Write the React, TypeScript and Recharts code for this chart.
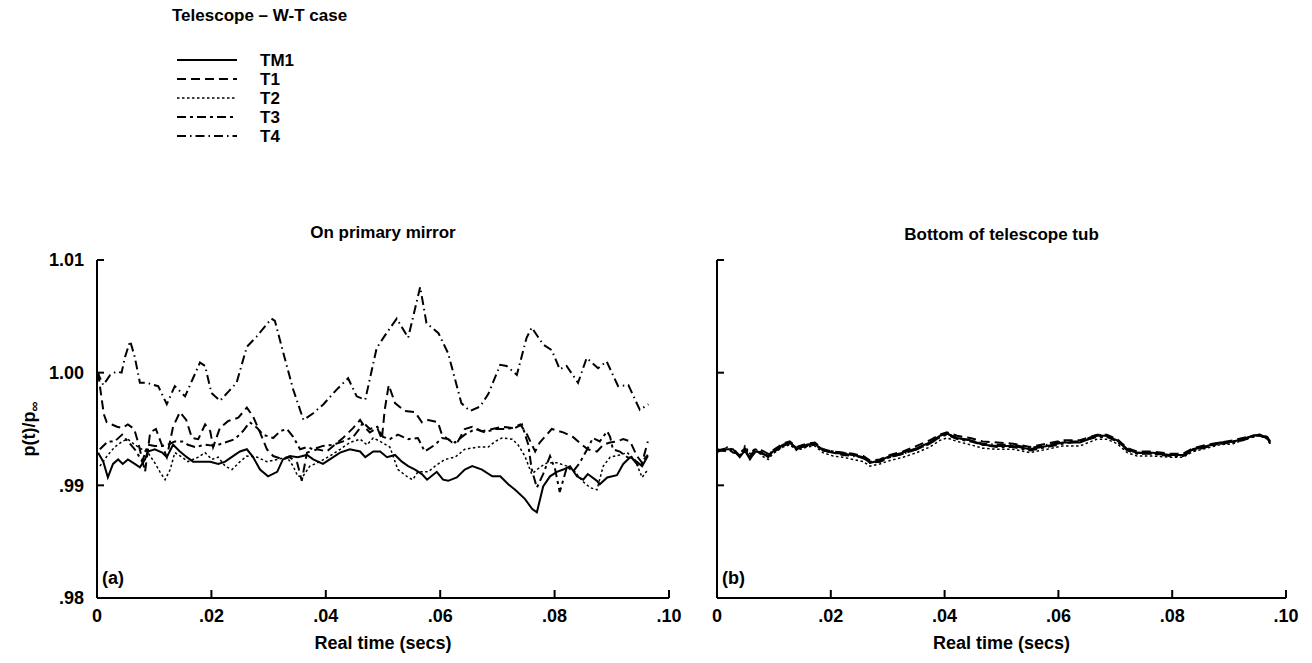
import { LineChart, Line, XAxis, YAxis, Label } from "recharts";

const FONT = '"Liberation Sans", Arial, Helvetica, sans-serif';

const seriesNames = ["TM1", "T1", "T2", "T3", "T4"];
const xTicks = [0, 0.02, 0.04, 0.06, 0.08, 0.1];
const yTicks = [0.98, 0.99, 1.0, 1.01];

// panel (a): traced points [time, p/pinf]
const leftTM1 = [
  [0.0002, 0.9929], [0.0011, 0.9921], [0.0019, 0.9907], [0.0028, 0.9919], [0.0037, 0.9923],
  [0.0045, 0.9919], [0.0054, 0.9923], [0.0066, 0.9919], [0.0075, 0.9916], [0.0084, 0.9923],
  [0.0089, 0.993], [0.0101, 0.9932], [0.0114, 0.9929], [0.0122, 0.9925], [0.0133, 0.9936],
  [0.0145, 0.993], [0.0157, 0.9925], [0.0168, 0.9921], [0.0184, 0.9921], [0.0198, 0.9921],
  [0.0212, 0.9919], [0.0224, 0.9921], [0.0241, 0.9927], [0.025, 0.993], [0.0262, 0.9932],
  [0.0273, 0.9925], [0.0285, 0.9914], [0.0299, 0.9908], [0.0315, 0.9912], [0.0325, 0.9923],
  [0.0337, 0.9926], [0.0351, 0.9925], [0.0367, 0.9927], [0.0378, 0.9923], [0.0395, 0.9919],
  [0.0407, 0.9923], [0.0425, 0.9929], [0.0442, 0.9932], [0.046, 0.993], [0.0469, 0.9925],
  [0.0483, 0.993], [0.0495, 0.993], [0.0507, 0.9925], [0.0521, 0.9927], [0.0533, 0.9921],
  [0.0544, 0.9917], [0.0556, 0.9914], [0.0568, 0.991], [0.0577, 0.9905], [0.0594, 0.9912],
  [0.0605, 0.9905], [0.0614, 0.9904], [0.0629, 0.9907], [0.0643, 0.9914], [0.0656, 0.9917],
  [0.0673, 0.9914], [0.0691, 0.9908], [0.0705, 0.9908], [0.0719, 0.9901], [0.0731, 0.9896],
  [0.0748, 0.9888], [0.0761, 0.9879], [0.0769, 0.9876], [0.078, 0.9899], [0.0792, 0.9908],
  [0.0804, 0.9912], [0.0815, 0.9914], [0.0827, 0.9917], [0.0839, 0.9908], [0.085, 0.9905],
  [0.0858, 0.991], [0.0874, 0.9904], [0.0879, 0.9901], [0.0892, 0.9907], [0.0909, 0.9909],
  [0.092, 0.9919], [0.0932, 0.9925], [0.0944, 0.9921], [0.0953, 0.9917], [0.0963, 0.9926],
];

const leftT1 = [
  [0.0002, 1.0], [0.0007, 0.9981], [0.0012, 0.9963], [0.0017, 0.9956], [0.0026, 0.9954],
  [0.0035, 0.9952], [0.0044, 0.9951], [0.0054, 0.9954], [0.0065, 0.995], [0.0072, 0.9938],
  [0.0079, 0.9923], [0.0084, 0.9912], [0.0093, 0.9947], [0.0103, 0.995], [0.0114, 0.9935],
  [0.0122, 0.9925], [0.0133, 0.9952], [0.0145, 0.9965], [0.0156, 0.9958], [0.0166, 0.9942],
  [0.0177, 0.9941], [0.0189, 0.9954], [0.0198, 0.9948], [0.0203, 0.9934], [0.0215, 0.9951],
  [0.0229, 0.9957], [0.0247, 0.996], [0.0262, 0.9969], [0.0273, 0.9961], [0.0285, 0.9947],
  [0.0297, 0.9932], [0.0308, 0.9926], [0.0325, 0.9923], [0.0337, 0.9925], [0.035, 0.992],
  [0.0358, 0.9904], [0.0367, 0.9929], [0.0385, 0.9932], [0.0402, 0.993], [0.0413, 0.9935],
  [0.043, 0.9942], [0.0448, 0.9951], [0.046, 0.9958], [0.0469, 0.9951], [0.0477, 0.9947],
  [0.049, 0.9951], [0.0498, 0.9941], [0.0503, 0.9967], [0.051, 0.9989], [0.0521, 0.9973],
  [0.0538, 0.9966], [0.0556, 0.9965], [0.0568, 0.9956], [0.0579, 0.9958], [0.0596, 0.9956],
  [0.0603, 0.9945], [0.0621, 0.9938], [0.0631, 0.9939], [0.0643, 0.995], [0.0656, 0.9952],
  [0.0673, 0.9948], [0.0691, 0.995], [0.0708, 0.9952], [0.0726, 0.9951], [0.074, 0.9954],
  [0.0752, 0.9945], [0.0766, 0.993], [0.0774, 0.9938], [0.0795, 0.995], [0.0815, 0.9947],
  [0.0832, 0.9943], [0.0848, 0.9936], [0.0858, 0.9932], [0.0874, 0.993], [0.0885, 0.9936],
  [0.0897, 0.9938], [0.0909, 0.9939], [0.092, 0.9941], [0.0932, 0.9939], [0.0944, 0.9926],
  [0.0953, 0.992], [0.0963, 0.9939],
];

const leftT2 = [
  [0.0005, 0.9917], [0.0019, 0.9927], [0.0031, 0.9934], [0.0044, 0.9939], [0.0054, 0.9941],
  [0.0066, 0.9936], [0.0079, 0.9932], [0.0089, 0.9929], [0.0101, 0.992], [0.011, 0.9912],
  [0.0119, 0.9905], [0.0128, 0.9914], [0.0136, 0.9929], [0.0149, 0.9925], [0.0159, 0.9921],
  [0.0177, 0.9925], [0.0189, 0.9929], [0.0201, 0.9923], [0.0212, 0.9925], [0.0224, 0.9917],
  [0.0236, 0.9914], [0.025, 0.9921], [0.0262, 0.9926], [0.028, 0.9925], [0.0297, 0.9921],
  [0.0315, 0.9923], [0.0332, 0.9925], [0.0343, 0.9917], [0.0351, 0.9908], [0.036, 0.9908],
  [0.0372, 0.9917], [0.039, 0.9921], [0.0407, 0.9926], [0.0425, 0.9932], [0.0442, 0.9938],
  [0.046, 0.9941], [0.0472, 0.9936], [0.0483, 0.9942], [0.0495, 0.9939], [0.0512, 0.9934],
  [0.0526, 0.9914], [0.0544, 0.9907], [0.0552, 0.9905], [0.0561, 0.9912], [0.0579, 0.9912],
  [0.0591, 0.9917], [0.0608, 0.9923], [0.0626, 0.9925], [0.0643, 0.9932], [0.0666, 0.9934],
  [0.0684, 0.9934], [0.0696, 0.9939], [0.0708, 0.9942], [0.0726, 0.9941], [0.0736, 0.9936],
  [0.0748, 0.9926], [0.076, 0.991], [0.0774, 0.9916], [0.0787, 0.992], [0.0804, 0.992],
  [0.0822, 0.9917], [0.0836, 0.9912], [0.0848, 0.9904], [0.0862, 0.9898], [0.0874, 0.9896],
  [0.0885, 0.9917], [0.0897, 0.9925], [0.0914, 0.9927], [0.0927, 0.9929], [0.094, 0.9923],
  [0.0953, 0.9907], [0.0963, 0.9914],
];

const leftT3 = [
  [0.0005, 0.9932], [0.0019, 0.9939], [0.0031, 0.9939], [0.0044, 0.9945], [0.0054, 0.9939],
  [0.0066, 0.9932], [0.0079, 0.9921], [0.0089, 0.9936], [0.0101, 0.9935], [0.0114, 0.9935],
  [0.0124, 0.9936], [0.0136, 0.9939], [0.0149, 0.9939], [0.0159, 0.9936], [0.0171, 0.9934],
  [0.0189, 0.9936], [0.0206, 0.9935], [0.0224, 0.9938], [0.0241, 0.9941], [0.0255, 0.9948],
  [0.0267, 0.9956], [0.028, 0.9951], [0.029, 0.9945], [0.0308, 0.9942], [0.032, 0.9948],
  [0.0332, 0.995], [0.0343, 0.9943], [0.0355, 0.9932], [0.0367, 0.9934], [0.0378, 0.9932],
  [0.0395, 0.9935], [0.0413, 0.9936], [0.043, 0.9939], [0.0448, 0.9943], [0.046, 0.9951],
  [0.0465, 0.9956], [0.0477, 0.995], [0.049, 0.9952], [0.05, 0.9943], [0.0512, 0.9941],
  [0.0526, 0.9945], [0.0544, 0.9941], [0.0561, 0.9942], [0.0573, 0.993], [0.0591, 0.9936],
  [0.0603, 0.9942], [0.0614, 0.9941], [0.0626, 0.9938], [0.0643, 0.9945], [0.0661, 0.995],
  [0.0678, 0.9947], [0.0696, 0.995], [0.0713, 0.995], [0.0731, 0.9951], [0.0743, 0.9954],
  [0.0754, 0.9936], [0.076, 0.9914], [0.0769, 0.9898], [0.078, 0.991], [0.0792, 0.9926],
  [0.0801, 0.9914], [0.0809, 0.9894], [0.0822, 0.9917], [0.0832, 0.9912], [0.0844, 0.992],
  [0.0857, 0.9932], [0.0867, 0.9942], [0.0879, 0.9939], [0.0892, 0.9948], [0.0897, 0.9943],
  [0.0902, 0.9932], [0.0914, 0.993], [0.0927, 0.9925], [0.0937, 0.9923], [0.0949, 0.9916],
  [0.0956, 0.9923], [0.0963, 0.9927],
];

const leftT4 = [
  [0, 1.0001], [0.0011, 0.9989], [0.0023, 0.9998], [0.0034, 1.0001], [0.0043, 1.0],
  [0.0049, 1.0014], [0.0058, 1.0028], [0.0066, 1.0014], [0.0075, 0.9991], [0.0087, 0.9991],
  [0.0107, 0.9988], [0.0122, 0.9972], [0.0136, 0.9988], [0.0154, 0.9979], [0.018, 1.0009],
  [0.0189, 1.0006], [0.02, 0.9982], [0.0215, 0.9975], [0.0233, 0.9985], [0.0244, 0.9991],
  [0.0262, 1.0023], [0.0279, 1.0032], [0.0305, 1.0048], [0.0311, 1.0046], [0.0326, 1.0017],
  [0.0343, 0.9985], [0.0361, 0.9958], [0.0378, 0.9964], [0.0396, 0.9972], [0.0419, 0.9985],
  [0.0439, 0.9995], [0.0454, 0.9979], [0.0469, 0.9976], [0.0489, 1.0022], [0.0506, 1.0035],
  [0.0524, 1.0048], [0.0544, 1.0031], [0.0565, 1.0076], [0.0576, 1.0044], [0.0597, 1.0035],
  [0.0614, 1.0017], [0.0637, 0.9973], [0.0652, 0.9966], [0.067, 0.997], [0.0684, 0.9981],
  [0.0705, 1.0007], [0.0716, 1.0006], [0.0734, 0.9998], [0.0751, 1.0031], [0.076, 1.004],
  [0.078, 1.0025], [0.0795, 1.002], [0.0809, 1.0003], [0.0821, 1.0006], [0.0841, 0.9991],
  [0.0856, 1.0013], [0.0876, 1.0004], [0.0891, 1.001], [0.0911, 0.9988], [0.0929, 0.9989],
  [0.0949, 0.9967], [0.0964, 0.9972],
];

// panel (b): shared time base
const rightTime = [
  0, 0.0018, 0.0028, 0.004, 0.0049, 0.0058, 0.0067, 0.0079, 0.009, 0.0098,
  0.0116, 0.0128, 0.014, 0.0158, 0.0172, 0.0186, 0.0204, 0.0221, 0.0239, 0.0257,
  0.0269, 0.0286, 0.0304, 0.0327, 0.0351, 0.0374, 0.0392, 0.0404, 0.0422, 0.0445,
  0.0467, 0.0492, 0.052, 0.055, 0.058, 0.0608, 0.0638, 0.0668, 0.0685, 0.0703,
  0.0721, 0.0738, 0.0766, 0.0796, 0.0819, 0.0837, 0.0861, 0.0884, 0.0907, 0.0924,
  0.0942, 0.0954, 0.0967, 0.0972,
];
const rightTM1 = [
  0.993, 0.9932, 0.9932, 0.9925, 0.9931, 0.9923, 0.993, 0.9929, 0.9925, 0.993,
  0.9936, 0.9938, 0.9932, 0.9936, 0.9937, 0.9931, 0.9929, 0.9928, 0.9927, 0.9925,
  0.992, 0.9922, 0.9926, 0.9929, 0.9933, 0.9938, 0.9944, 0.9946, 0.9942, 0.994,
  0.9936, 0.9935, 0.9935, 0.9932, 0.9935, 0.9938, 0.9938, 0.9944, 0.9944, 0.994,
  0.9932, 0.9929, 0.9929, 0.9927, 0.9927, 0.9932, 0.9935, 0.9938, 0.9939, 0.9941,
  0.9944, 0.9945, 0.9942, 0.9938,
];
const rightT1 = [
  0.9931, 0.9933, 0.9929, 0.9928, 0.9933, 0.9926, 0.9932, 0.9931, 0.9928, 0.9931,
  0.9937, 0.9939, 0.9934, 0.9937, 0.9938, 0.9932, 0.993, 0.9929, 0.9928, 0.9926,
  0.9922, 0.9923, 0.9927, 0.993, 0.9935, 0.994, 0.9945, 0.9947, 0.9944, 0.9942,
  0.9939, 0.9938, 0.9937, 0.9934, 0.9937, 0.994, 0.994, 0.9945, 0.9945, 0.9941,
  0.9933, 0.993, 0.993, 0.9928, 0.9928, 0.9933, 0.9936, 0.9938, 0.994, 0.9942,
  0.9944, 0.9945, 0.9943, 0.9939,
];
const rightT2 = [
  0.9929, 0.9934, 0.993, 0.9927, 0.9935, 0.9928, 0.9933, 0.9926, 0.9923, 0.9928,
  0.9934, 0.9936, 0.9931, 0.9934, 0.9935, 0.9929, 0.9926, 0.9925, 0.9923, 0.9921,
  0.9917, 0.9919, 0.9922, 0.9925, 0.9929, 0.9934, 0.994, 0.9942, 0.9939, 0.9936,
  0.9933, 0.9932, 0.9932, 0.9929, 0.9932, 0.9935, 0.9935, 0.9941, 0.9941, 0.9937,
  0.9929, 0.9926, 0.9926, 0.9925, 0.9925, 0.993, 0.9933, 0.9936, 0.9937, 0.994,
  0.9943, 0.9944, 0.9941, 0.9937,
];
const rightT3 = [
  0.9932, 0.993, 0.9933, 0.9926, 0.993, 0.9925, 0.9929, 0.993, 0.9926, 0.9931,
  0.9935, 0.9937, 0.9933, 0.9935, 0.9936, 0.9932, 0.993, 0.9929, 0.9927, 0.9924,
  0.9921, 0.9921, 0.9925, 0.9928, 0.9932, 0.9937, 0.9943, 0.9945, 0.9941, 0.9939,
  0.9936, 0.9934, 0.9934, 0.9931, 0.9934, 0.9937, 0.9939, 0.9943, 0.9943, 0.9939,
  0.9931, 0.9928, 0.9928, 0.9926, 0.9926, 0.9931, 0.9934, 0.9937, 0.9938, 0.994,
  0.9943, 0.9944, 0.9942, 0.9937,
];
const rightT4 = [
  0.9931, 0.9931, 0.9931, 0.9926, 0.9932, 0.9924, 0.9931, 0.9928, 0.9926, 0.9929,
  0.9935, 0.9938, 0.9933, 0.9936, 0.9936, 0.9931, 0.9929, 0.9927, 0.9926, 0.9925,
  0.992, 0.9921, 0.9925, 0.9928, 0.9932, 0.9937, 0.9943, 0.9946, 0.9942, 0.994,
  0.9937, 0.9936, 0.9936, 0.9933, 0.9936, 0.9939, 0.9939, 0.9945, 0.9944, 0.994,
  0.9932, 0.9929, 0.9928, 0.9927, 0.9927, 0.9932, 0.9935, 0.9937, 0.9939, 0.9941,
  0.9944, 0.9945, 0.9942, 0.9938,
];

const leftSeries: Record<string, number[][]> = {
  TM1: leftTM1, T1: leftT1, T2: leftT2, T3: leftT3, T4: leftT4,
};
const rightSeries: Record<string, number[]> = {
  TM1: rightTM1, T1: rightT1, T2: rightT2, T3: rightT3, T4: rightT4,
};
const rightRows = rightTime.map((t, i) => {
  const row: Record<string, number> = { t };
  seriesNames.forEach((n) => (row[n] = rightSeries[n][i]));
  return row;
});

const lineLook: Record<string, { dash?: string; width: number }> = {
  TM1: { width: 2 },
  T1: { dash: "9 5", width: 2 },
  T2: { dash: "2.5 2.5", width: 1.5 },
  T3: { dash: "9 4 3 4", width: 2 },
  T4: { dash: "9 4 1.5 4", width: 2 },
};

const fmtX = (v: number) => (v === 0 ? "0" : v.toFixed(2).replace(/^0/, ""));
const fmtY = (v: number) => (v >= 1 ? v.toFixed(2) : v.toFixed(2).replace(/^0/, ""));
const tickStyle = { fontFamily: FONT, fontSize: 18, fontWeight: 700, fill: "#000" };
const axisStroke = { stroke: "#000", strokeWidth: 2 };

const YLabel = ({ viewBox }: any) => {
  const cx = viewBox.x + 29;
  const cy = viewBox.y + viewBox.height / 2;
  return (
    <text
      x={cx}
      y={cy}
      transform={`rotate(-90 ${cx} ${cy})`}
      textAnchor="middle"
      dominantBaseline="central"
      style={{ fontFamily: FONT, fontSize: 18, fontWeight: 700 }}
      fill="#000"
    >
      p(t)/p<tspan dy={5} fontSize={14}>∞</tspan>
    </text>
  );
};

function Panel({ side }: { side: "a" | "b" }) {
  const isA = side === "a";
  return (
    <LineChart
      width={isA ? 700 : 692}
      height={463}
      data={isA ? undefined : rightRows}
      margin={{ top: 60, right: isA ? 31 : 26, bottom: 0, left: 0 }}
    >
      <XAxis
        dataKey="t"
        type="number"
        domain={[0, 0.1]}
        ticks={xTicks}
        tickFormatter={fmtX}
        allowDataOverflow
        height={65}
        tickSize={-8}
        tickMargin={19}
        tick={tickStyle}
        axisLine={axisStroke}
        tickLine={axisStroke}
      >
        <Label
          value="Real time (secs)"
          position="insideBottom"
          offset={14}
          style={{ fontFamily: FONT, fontSize: 18, fontWeight: 700, fill: "#000" }}
        />
      </XAxis>
      <YAxis
        type="number"
        domain={[0.98, 1.01]}
        ticks={yTicks}
        tickFormatter={isA ? fmtY : () => ""}
        allowDataOverflow
        width={97}
        tickSize={-7}
        tickMargin={20}
        tick={tickStyle}
        axisLine={axisStroke}
        tickLine={axisStroke}
      >
        {isA && <Label content={<YLabel />} />}
      </YAxis>
      {seriesNames.map((n) => (
        <Line
          key={n}
          data={isA ? leftSeries[n].map(([t, v]) => ({ t, v })) : undefined}
          dataKey={isA ? "v" : n}
          name={n}
          type="linear"
          stroke="#000"
          strokeWidth={lineLook[n].width}
          strokeDasharray={lineLook[n].dash}
          dot={false}
          activeDot={false}
          isAnimationActive={false}
        />
      ))}
    </LineChart>
  );
}

function LegendBox() {
  const rowY = [60, 79, 98, 117, 136];
  return (
    <svg width={220} height={160} style={{ position: "absolute", left: 168, top: 0 }}>
      <text x={4} y={21} style={{ fontFamily: FONT, fontSize: 17, fontWeight: 700 }} fill="#000">
        Telescope – W-T case
      </text>
      {seriesNames.map((n, i) => (
        <g key={n}>
          <line
            x1={9}
            x2={69}
            y1={rowY[i]}
            y2={rowY[i]}
            stroke="#000"
            strokeWidth={lineLook[n].width}
            strokeDasharray={lineLook[n].dash}
          />
          <text
            x={92}
            y={rowY[i]}
            dominantBaseline="central"
            style={{ fontFamily: FONT, fontSize: 17, fontWeight: 700 }}
            fill="#000"
          >
            {n}
          </text>
        </g>
      ))}
    </svg>
  );
}

const textStyle = {
  position: "absolute" as const,
  fontFamily: FONT,
  fontSize: 17,
  fontWeight: 700,
  color: "#000",
  lineHeight: "20px",
  whiteSpace: "nowrap" as const,
};

export default function App() {
  return (
    <div style={{ position: "absolute", left: 0, top: 0, width: 1312, height: 663, background: "#fff" }}>
      <LegendBox />
      <div style={{ ...textStyle, left: 97, width: 572, top: 223, textAlign: "center" }}>On primary mirror</div>
      <div style={{ ...textStyle, left: 717, width: 569, top: 225, textAlign: "center" }}>
        Bottom of telescope tub
      </div>
      <div style={{ position: "absolute", left: 0, top: 200 }}>
        <Panel side="a" />
      </div>
      <div style={{ position: "absolute", left: 620, top: 200 }}>
        <Panel side="b" />
      </div>
      <div style={{ ...textStyle, fontSize: 18, left: 102, top: 568 }}>(a)</div>
      <div style={{ ...textStyle, fontSize: 18, left: 722, top: 568 }}>(b)</div>
    </div>
  );
}
